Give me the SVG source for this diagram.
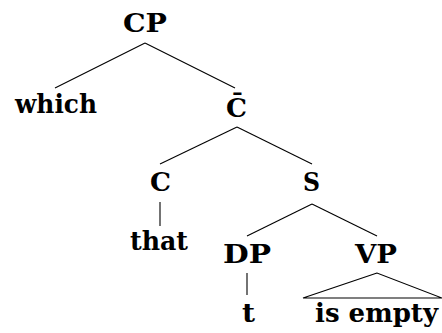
<svg xmlns="http://www.w3.org/2000/svg" width="442" height="333" viewBox="0 0 442 333">
<style>
.t{font-family:'DejaVu Serif','Liberation Serif',serif;font-weight:bold;font-size:26px;fill:#000;text-anchor:middle}
.e{stroke:#000;stroke-width:1.1;fill:none}
</style>
<rect width="442" height="333" fill="#fff"/>
<g id="connectors">
<line class="e" x1="145" y1="43" x2="55" y2="88"/>
<line class="e" x1="145" y1="43" x2="235" y2="88"/>
<line class="e" x1="237" y1="127" x2="160" y2="164"/>
<line class="e" x1="237" y1="127" x2="312" y2="164"/>
<line class="e" x1="160" y1="202" x2="160" y2="226"/>
<line class="e" x1="312" y1="204" x2="247" y2="236"/>
<line class="e" x1="312" y1="204" x2="377" y2="236"/>
<line class="e" x1="247" y1="273" x2="247" y2="295"/>
<polygon class="e" points="377,273 303,298 442,298"/>
</g>
<g id="CP"><text class="t" x="145" y="32" textLength="44" lengthAdjust="spacingAndGlyphs">CP</text></g>
<g id="which"><text class="t" x="56" y="113" textLength="82" lengthAdjust="spacingAndGlyphs">which</text></g>
<g id="Cbar"><text class="t" x="236.5" y="117" textLength="21" lengthAdjust="spacingAndGlyphs">C̄</text></g>
<g id="C"><text class="t" x="160.5" y="191" textLength="21" lengthAdjust="spacingAndGlyphs">C</text></g>
<g id="S"><text class="t" x="311.5" y="191" textLength="17" lengthAdjust="spacingAndGlyphs">S</text></g>
<g id="that"><text class="t" x="159" y="250" textLength="58" lengthAdjust="spacingAndGlyphs">that</text></g>
<g id="DP"><text class="t" x="247" y="263" textLength="48" lengthAdjust="spacingAndGlyphs">DP</text></g>
<g id="VP"><text class="t" x="376" y="263" textLength="42" lengthAdjust="spacingAndGlyphs">VP</text></g>
<g id="t"><text class="t" x="248.5" y="322" textLength="13" lengthAdjust="spacingAndGlyphs">t</text></g>
<g id="isempty"><text class="t" x="376.5" y="322" textLength="123" lengthAdjust="spacingAndGlyphs">is empty</text></g>
</svg>
